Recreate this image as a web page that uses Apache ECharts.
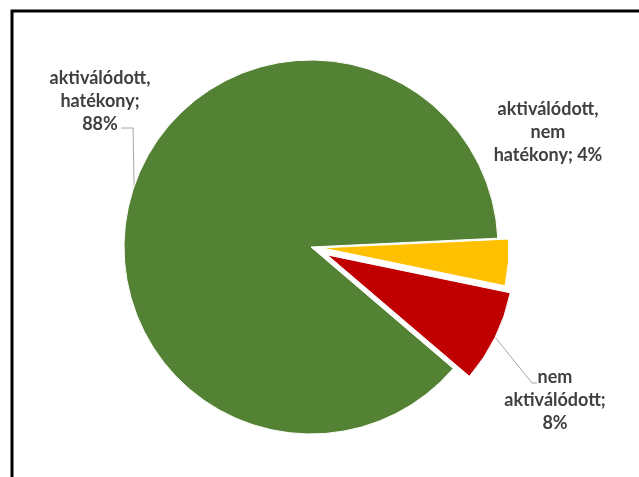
<!DOCTYPE html>
<html>
<head>
<meta charset="utf-8">
<script src="https://cdn.jsdelivr.net/npm/echarts@6/dist/echarts.min.js"></script>
<style>html,body{margin:0;padding:0;background:#fff}#c{width:639px;height:477px}</style>
</head>
<body>
<div id="c"></div>
<script>
const categories = ['aktiválódott, nem hatékony', 'nem aktiválódott', 'aktiválódott, hatékony'];
const values = [4, 8, 88];
const colors = ['#FFC000', '#C00000', '#548235'];

// styling / layout constants
const CX = 311, CY = 247, R = 187;
const explodeOffsets = [11, 18, 0];
const labelPos = [[548, 132], [555, 400], [100, 101]];
const LH = 23;

const chart = echarts.init(document.getElementById('c'));

function baseSeries(extra) {
  return Object.assign({
    type: 'pie',
    center: [CX, CY],
    radius: R,
    startAngle: 2.7,
    clockwise: true,
    selectedMode: 'multiple',
    emphasis: { disabled: true },
    label: { show: false },
    labelLine: { show: false },
    animation: false
  }, extra);
}

// series A: green + yellow (yellow exploded)
const seriesA = baseSeries({
  selectedOffset: explodeOffsets[0],
  data: categories.map(function (c, i) {
    const visible = i !== 1;
    return {
      name: c, value: values[i], selected: i === 0,
      itemStyle: visible ? { color: colors[i], borderColor: '#fff', borderWidth: 1 }
                         : { color: 'rgba(0,0,0,0)', borderWidth: 0 }
    };
  })
});
// series B: red (exploded further)
const seriesB = baseSeries({
  selectedOffset: explodeOffsets[1],
  data: categories.map(function (c, i) {
    const visible = i === 1;
    return {
      name: c, value: values[i], selected: i === 1,
      itemStyle: visible ? { color: colors[i], borderColor: '#fff', borderWidth: 1 }
                         : { color: 'rgba(0,0,0,0)', borderWidth: 0 }
    };
  })
});
// series C: labels only
const seriesC = baseSeries({
  silent: true,
  selectedMode: false,
  label: {
    show: true,
    position: 'outside',
    color: '#404040',
    fontFamily: 'Lato',
    fontWeight: 'bold',
    fontSize: 18,
    lineHeight: LH,
    overflow: 'none',
    formatter: function (p) {
      const sep = p.dataIndex === 0 ? ' ' : '\n';
      return p.name.replace(/ /g, '\n') + ';' + sep + p.value + '%';
    }
  },
  labelLine: { show: true, lineStyle: { color: '#A6A6A6', width: 1 } },
  labelLayout: function (params) {
    const i = params.dataIndex;
    const pos = labelPos[i];
    const res = { x: pos[0], y: pos[1], align: 'center', verticalAlign: 'middle' };
    const pts = params.labelLinePoints;
    if (pts && i !== 0) {
      const p0 = pts[0];
      const dx = p0[0] - CX, dy = p0[1] - CY;
      const d = Math.sqrt(dx * dx + dy * dy) || 1;
      const off = explodeOffsets[i];
      const s = [p0[0] + dx / d * off, p0[1] + dy / d * off];
      if (i === 2) {
        const ly = pos[1] + LH + 4;
        res.labelLinePoints = [s, [s[0] - 1, ly], [pos[0] + 21, ly]];
      } else {
        const ly = pos[1] - 17;
        res.labelLinePoints = [s, [pos[0] - 23, ly], [pos[0] - 18, ly]];
      }
    }
    return res;
  },
  data: categories.map(function (c, i) {
    return {
      name: c, value: values[i],
      itemStyle: { color: 'rgba(0,0,0,0)', borderWidth: 0 },
      labelLine: { show: i !== 0 }
    };
  })
});

chart.setOption({
  animation: false,
  graphic: [{
    type: 'rect',
    shape: { x: 12, y: 11, width: 700, height: 600 },
    style: { fill: 'none', stroke: '#000', lineWidth: 3 },
    z: 100
  }],
  series: [seriesA, seriesB, seriesC]
});
</script>
</body>
</html>
